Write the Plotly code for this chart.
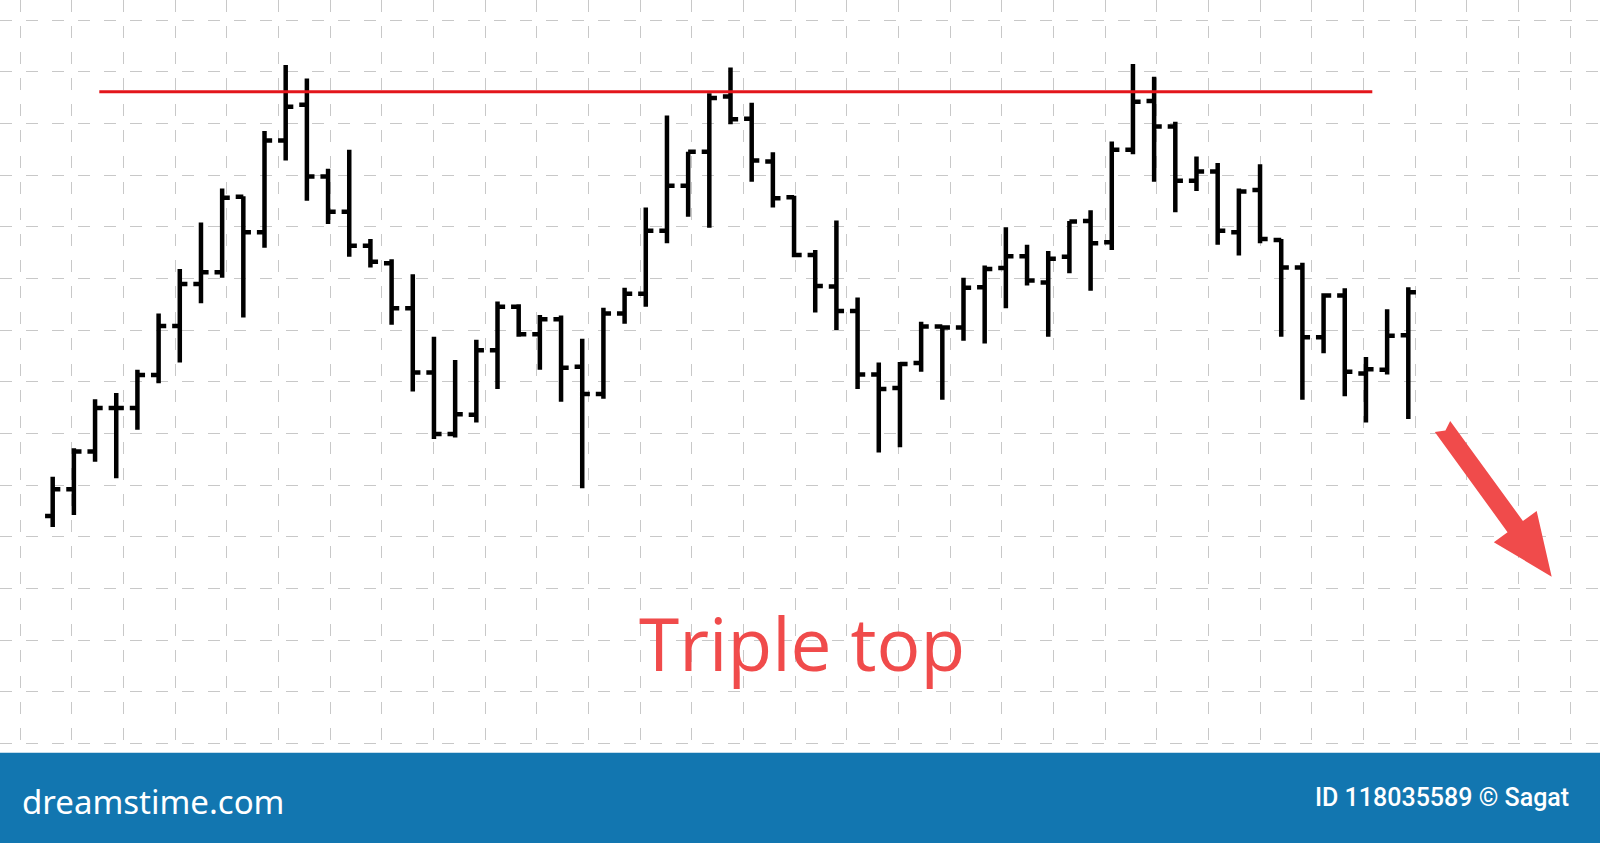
import math
import plotly.graph_objects as go

# ---------------- data ----------------
bar_index = list(range(1, 66))

open_ = [44.0, 49.2, 56.5, 64.9, 64.9, 71.3, 80.8, 88.9, 91.2, 105.8,
         98.9, 116.7, 123.6, 109.7, 102.9, 96.3, 92.9, 84.2, 71.8, 59.9,
         63.6, 76.1, 84.5, 79.2, 82.1, 72.9, 67.6, 83.2, 87.0, 99.2,
         107.9, 114.5, 125.2, 120.9, 112.6, 105.7, 94.5, 88.4, 83.7, 71.4,
         68.8, 73.6, 80.7, 80.5, 88.3, 92.0, 94.3, 89.2, 94.2, 101.1,
         97.0, 114.9, 124.3, 119.4, 108.9, 110.7, 98.9, 107.1, 97.4, 92.1,
         78.6, 86.7, 71.6, 72.3, 79.0]

high = [51.6, 57.1, 66.6, 67.8, 72.3, 83.2, 91.8, 100.8, 107.4, 105.9,
        118.5, 131.3, 128.7, 111.2, 114.9, 97.6, 93.7, 90.8, 78.7, 74.2,
        78.1, 85.5, 85.0, 82.9, 82.8, 78.3, 84.3, 88.2, 103.7, 121.5,
        114.5, 125.8, 130.8, 124.0, 114.4, 106.0, 95.5, 101.2, 86.3, 73.7,
        73.8, 81.6, 80.8, 90.1, 92.5, 99.9, 96.5, 95.3, 101.1, 103.2,
        116.5, 131.5, 129.0, 120.3, 113.6, 112.3, 107.4, 112.1, 97.6, 93.0,
        87.1, 88.1, 74.8, 84.0, 88.3]

low = [41.9, 44.2, 54.5, 51.3, 60.7, 69.7, 73.7, 85.2, 90.1, 82.4,
       95.9, 112.8, 105.0, 100.5, 94.2, 92.1, 81.0, 68.1, 58.9, 59.2,
       62.1, 68.6, 78.7, 72.3, 66.1, 49.4, 66.7, 81.2, 84.5, 96.8,
       101.9, 99.8, 119.8, 108.7, 103.7, 94.1, 83.4, 80.0, 68.6, 56.3,
       57.3, 71.9, 66.5, 77.9, 77.4, 84.2, 88.6, 78.7, 91.0, 87.6,
       95.5, 114.0, 108.7, 102.8, 106.9, 96.5, 94.4, 96.8, 78.7, 66.5,
       75.5, 67.2, 62.1, 71.4, 62.8]

close = [49.2, 56.5, 64.9, 64.9, 71.3, 80.8, 88.9, 91.2, 105.6, 98.9,
         116.7, 123.2, 109.7, 102.9, 96.3, 93.2, 84.2, 71.8, 59.9, 63.7,
         76.1, 84.5, 79.2, 82.1, 72.7, 67.6, 83.2, 87.0, 99.2, 107.9,
         114.5, 124.9, 120.8, 112.8, 105.5, 94.5, 88.5, 83.7, 71.4, 68.6,
         73.4, 80.7, 80.5, 88.2, 91.8, 94.3, 89.6, 93.8, 101.0, 96.8,
         114.9, 124.2, 119.4, 108.9, 110.7, 99.2, 106.8, 97.6, 92.1, 78.6,
         86.7, 71.9, 72.4, 78.9, 87.3]

resistance_level = 126.1
resistance_x = [3.2, 63.3]

title_text = "Triple top"
brand_text = "dreamstime.com"
credit_text = "ID 118035589 \u00a9 Sagat"

# ---------------- layout constants ----------------
W, H = 1600, 843
X_RANGE = [-1.488, 74.05]
Y_RANGE = [-19.28, 143.87]
GRID_X0, GRID_DX = -0.544, 2.4396
GRID_Y0, GRID_DY = 0, 10

RED_TEXT = "#F04B4B"
RED_LINE = "#E3161B"
BANNER = "#1276B0"
GRID = "#C8C8C8"

fig = go.Figure()

fig.add_trace(go.Ohlc(
    x=bar_index, open=open_, high=high, low=low, close=close,
    increasing=dict(line=dict(color="black", width=4.5)),
    decreasing=dict(line=dict(color="black", width=4.5)),
    tickwidth=0.36, hoverinfo="skip", showlegend=False,
))

fig.add_trace(go.Scatter(
    x=resistance_x, y=[resistance_level, resistance_level], mode="lines",
    line=dict(color=RED_LINE, width=3), hoverinfo="skip", showlegend=False,
))

# ---------------- decorations ----------------
def to_paper(px, py):
    return px / W, 1 - py / H

# red arrow (pixel geometry -> paper coordinates)
tail = (1442.5, 426.5)
tip = (1551.7, 576.7)
dx, dy = tip[0] - tail[0], tip[1] - tail[1]
L = math.hypot(dx, dy)
ux, uy = dx / L, dy / L
nx, ny = -uy, ux
shaft_hw, head_hw, head_len, notch = 9.5, 26.5, 62.0, 5.0
bx, by = tip[0] - ux * head_len, tip[1] - uy * head_len
pts = [
    (tail[0] + nx * shaft_hw, tail[1] + ny * shaft_hw),
    (bx + nx * shaft_hw, by + ny * shaft_hw),
    (bx + nx * head_hw, by + ny * head_hw),
    tip,
    (bx - nx * head_hw, by - ny * head_hw),
    (bx - nx * shaft_hw, by - ny * shaft_hw),
    (tail[0] - nx * shaft_hw, tail[1] - ny * shaft_hw),
    (tail[0] + ux * notch, tail[1] + uy * notch),
]
path = "M " + " L ".join("{:.5f},{:.5f}".format(*to_paper(*p)) for p in pts) + " Z"

shapes = [
    dict(type="rect", xref="paper", yref="paper", x0=0, x1=1, y0=0,
         y1=(H - 752.7) / H, fillcolor=BANNER, line=dict(width=0), layer="above"),
    dict(type="path", xref="paper", yref="paper", path=path,
         fillcolor=RED_TEXT, line=dict(width=0), layer="above"),
]

annotations = [
    dict(text=title_text, xref="paper", yref="paper", x=801.7 / W, y=1 - 642 / H,
         xanchor="center", yanchor="middle", showarrow=False,
         font=dict(family="Open Sans", size=73, color=RED_TEXT)),
    dict(text=brand_text, xref="paper", yref="paper", x=20 / W, y=1 - 801 / H,
         xanchor="left", yanchor="middle", showarrow=False,
         font=dict(family="Noto Sans", size=33, color="white")),
    dict(text=credit_text, xref="paper", yref="paper", x=1571 / W, y=1 - 797 / H,
         xanchor="right", yanchor="middle", showarrow=False,
         font=dict(family="Roboto", size=25, color="white", weight=500)),
]

fig.update_layout(
    width=W, height=H, autosize=False,
    margin=dict(l=0, r=0, t=0, b=0, pad=0),
    paper_bgcolor="white", plot_bgcolor="white",
    showlegend=False, shapes=shapes, annotations=annotations,
    xaxis=dict(range=X_RANGE, showgrid=True, gridcolor=GRID, gridwidth=1.3,
               griddash="12px,14px", tick0=GRID_X0, dtick=GRID_DX,
               showticklabels=False, ticks="", zeroline=False, showline=False,
               rangeslider=dict(visible=False), fixedrange=True),
    yaxis=dict(range=Y_RANGE, showgrid=True, gridcolor=GRID, gridwidth=1.3,
               griddash="12px,14px", tick0=GRID_Y0, dtick=GRID_DY,
               showticklabels=False, ticks="", zeroline=False, showline=False,
               fixedrange=True),
)

fig.write_html(
    "out.html",
    config=dict(displayModeBar=False),
    post_script="document.body.style.margin='0';document.body.style.overflow='hidden';",
)
